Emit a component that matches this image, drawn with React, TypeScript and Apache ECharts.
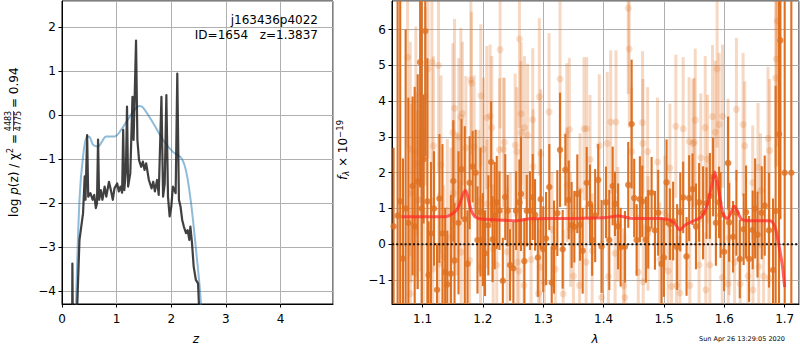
import React, { useEffect, useRef } from 'react';
import * as echarts from 'echarts';

// ---------- Left panel: log p(z) ----------
const zBlue = [0.25, 0.32, 0.385, 0.46, 0.51, 0.57, 0.66, 0.72, 0.81, 0.96, 1.12, 1.30, 1.42, 1.48, 1.67, 1.85, 2.03, 2.19, 2.28, 2.37, 2.46, 2.52, 2.56];
const pBlue = [-4.6, -1.92, -0.94, -0.48, -0.5, -0.67, -0.71, -0.62, -0.48, -0.48, -0.26, 0.08, 0.21, 0.18, -0.18, -0.56, -0.83, -0.98, -1.32, -2.08, -3.14, -3.9, -4.6];

const zDark = [0.185, 0.19, 0.2, 0.26, 0.32, 0.385, 0.415, 0.43, 0.46, 0.48, 0.52, 0.56, 0.59, 0.62, 0.64, 0.66, 0.68, 0.71, 0.74, 0.78, 0.81, 0.86, 0.90, 0.93, 0.96, 1.01, 1.04, 1.07, 1.10, 1.12, 1.14, 1.17, 1.19, 1.21, 1.25, 1.29, 1.31, 1.33, 1.355, 1.38, 1.41, 1.45, 1.48, 1.51, 1.54, 1.59, 1.64, 1.67, 1.70, 1.74, 1.77, 1.82, 1.85, 1.88, 1.91, 1.94, 1.97, 2.0, 2.03, 2.08, 2.11, 2.14, 2.17, 2.2, 2.23, 2.27, 2.30, 2.33, 2.35, 2.38, 2.41, 2.45, 2.49, 2.53];
const pDark = [-5, -3.37, -5, -5, -2.83, -2.23, -1.39, -1.92, -0.45, -1.85, -1.77, -1.92, -1.81, -2.11, -2.0, -0.55, -1.92, -1.70, -1.92, -1.62, -1.85, -1.51, -1.73, -1.92, -1.66, -1.55, -1.73, -1.62, -1.76, -0.33, -1.70, -1.24, 0.2, -1.62, -1.32, 0.42, -0.56, 0.42, 1.70, -0.56, -1.02, -1.17, -1.05, -1.24, -1.09, -1.47, -1.66, -1.51, -1.73, -1.47, -1.81, 0.42, -1.85, -1.55, 0.46, -1.85, -2.30, -2.08, -1.62, -1.77, 0.95, -1.92, -2.08, -2.38, -2.53, -2.68, -2.61, -2.83, -2.53, -2.91, -3.44, -3.74, -3.82, -5];

// ---------- Right panel: spectrum ----------
const darkLam = [1.052, 1.0587, 1.063, 1.0675, 1.072, 1.0765, 1.0835, 1.087, 1.092, 1.096, 1.0985, 1.1017, 1.1045, 1.108,
  1.11, 1.114, 1.119, 1.124, 1.128, 1.133, 1.1375, 1.141, 1.147, 1.151, 1.153, 1.1596, 1.1645, 1.170, 1.1745, 1.178, 1.183, 1.188, 1.191, 1.196, 1.200, 1.2035, 1.209, 1.2137, 1.216, 1.2195,
  1.223, 1.2274, 1.233, 1.237, 1.241, 1.245, 1.2505, 1.255, 1.2605, 1.263, 1.2687, 1.2727, 1.278, 1.2826, 1.2864, 1.291, 1.2958, 1.300, 1.3046, 1.310, 1.314, 1.3178, 1.3233, 1.3278, 1.3322, 1.3366, 1.3422, 1.347, 1.3515, 1.3564, 1.361, 1.3653, 1.372, 1.3774, 1.381,
  1.386, 1.3911, 1.3967, 1.4039, 1.4094, 1.415, 1.4188, 1.424, 1.4282, 1.4353, 1.4408, 1.4464, 1.4507, 1.4547, 1.4601, 1.464, 1.470, 1.4739, 1.4795, 1.485, 1.4904, 1.496, 1.4998, 1.5043, 1.5098, 1.5152, 1.5218, 1.527, 1.5318, 1.5374, 1.5417, 1.5473,
  1.553, 1.5582, 1.5648, 1.5705, 1.576, 1.5814, 1.586, 1.5913, 1.5937, 1.5996, 1.6062, 1.608, 1.6145, 1.620, 1.6256, 1.632, 1.636, 1.641, 1.647, 1.651, 1.655, 1.662, 1.6669, 1.674, 1.6807, 1.685, 1.6906, 1.6929, 1.700, 1.711];
const darkFlux = [0.5, 0.8, 1.2, -0.4, 1.0, 0.6, 1.63, 0.5, 1.75, 5.09, 1.0, 2.38, 5.96, 1.2,
  -0.86, 0.3, 1.0, -1.27, 1.28, 0.3, -0.78, -1.12, -0.82, 1.77, -0.45, 0.6, 2.1, 0.7, -0.55, 1.72, 2.17, 2.0, 0.12, 0.9, 0.13, -0.25, 0.53, 2.3, 0.14, 0.8,
  1.17, 0.94, -1.02, 1.32, 0.94, -0.58, -0.67, 0.94, 1.17, 1.41, -0.47, 0.94, 0.94, 1.32, 0.82, -0.37, 1.26, -0.14, 0.16, 1.60, -1.07, -0.08, 0.87, 2.64, -0.14, 2.08, 1.24, 0.54, 0.49, 1.41, 0.54, -0.18, 1.72, 1.13, 0.12,
  0.8, 1.80, -0.06, 1.17, 0.12, 1.63, 1.13, 0.5, -0.08, -0.07, 1.66, 3.36, 1.29, 0.12, 1.26, 1.2, 0.13, 0.42, 1.44, 0.39, 0.88, -0.55, -0.37, 1.73, 0.56, 0.65, -0.08, 0.9, 1.31, -0.34, 1.29, 1.54,
  0.5, 1.17, 0.88, 1.15, 1.35, 1.88, 0.6, 1.17, 0.82, -0.21, 2.27, 0.61, 0.21, 0.88, -0.41, 0.42, 0.9, -0.41, 0.4, 1.0, 0.27, 0.88, 1.08, 0.39, -0.72, 0.93, 3.08, 5.7, 2.0, 2.0];
const darkErr = [2.2, 7, 6, 2.8, 5, 3.5, 2.5, 3.9, 3.0, 3.5, 6, 1.8, 3.5, 4,
  1.5, 2.0, 1.6, 1.3, 1.8, 2.5, 1.8, 1.5, 2.2, 1.7, 1.6, 2.0, 1.4, 2.6, 1.5, 1.3, 1.0, 1.2, 1.5, 1.8, 1.3, 1.2, 1.4, 1.7, 1.2, 1.5,
  1.3, 1.1, 1.2, 1.2, 1.0, 1.0, 1.3, 1.1, 1.2, 1.6, 1.2, 1.0, 1.1, 1.2, 1.0, 1.1, 1.4, 1.2, 1.3, 1.2, 1.0, 1.3, 1.2, 1.6, 1.1, 1.0, 1.1, 1.2, 1.0, 1.1, 1.0, 1.2, 1.0, 1.1, 1.0,
  1.3, 1.0, 1.3, 1.0, 1.4, 1.1, 0.9, 1.2, 1.1, 1.0, 1.2, 1.8, 1.1, 1.0, 1.2, 1.0, 1.2, 1.1, 1.0, 1.1, 1.2, 1.3, 1.1, 1.2, 1.0, 1.1, 1.2, 1.1, 1.0, 1.1, 1.2, 1.0,
  1.2, 1.1, 1.3, 1.0, 1.2, 1.1, 1.2, 1.0, 1.2, 1.1, 1.3, 1.1, 1.0, 1.2, 1.1, 1.0, 1.3, 1.2, 1.1, 1.4, 1.2, 1.3, 1.4, 1.6, 2.0, 3.5, 6, 5, 9, 9];

const lightLam = [1.0752, 1.0796, 1.080, 1.081, 1.089, 1.0905, 1.0917, 1.097, 1.1017, 1.1045, 1.109, 1.1155, 1.117, 1.118, 1.1265, 1.127, 1.1305, 1.135, 1.141, 1.147, 1.1502, 1.151, 1.153, 1.157, 1.160, 1.1635, 1.164, 1.166, 1.1717, 1.178, 1.180, 1.181, 1.1855, 1.193, 1.196, 1.1966, 1.201, 1.2065, 1.2068, 1.212, 1.2148, 1.217,
  1.223, 1.2275, 1.2285, 1.234, 1.2357, 1.2403, 1.2453, 1.2535, 1.2562, 1.2569, 1.2597, 1.2605, 1.263, 1.2633, 1.268, 1.2688, 1.274, 1.2798, 1.2826, 1.283, 1.2922, 1.2935, 1.295, 1.2958, 1.302, 1.3096, 1.3146, 1.32, 1.3278, 1.333, 1.339, 1.3395, 1.3432, 1.3453, 1.35, 1.36, 1.361, 1.3675, 1.371, 1.3719, 1.3775, 1.381,
  1.3928, 1.3967, 1.406, 1.408, 1.4117, 1.419, 1.4205, 1.4237, 1.433, 1.4353, 1.4408, 1.4424, 1.4464, 1.4574, 1.4646, 1.465, 1.4656, 1.4729, 1.4735, 1.4894, 1.4932, 1.5015, 1.507, 1.5098, 1.5125, 1.5197, 1.5208, 1.5263, 1.5318, 1.5417, 1.5428, 1.548,
  1.55, 1.5518, 1.5582, 1.561, 1.5683, 1.5693, 1.572, 1.576, 1.5804, 1.585, 1.588, 1.5914, 1.5965, 1.597, 1.6062, 1.6065, 1.608, 1.617, 1.620, 1.6263, 1.6311, 1.6338, 1.6392, 1.647, 1.6475, 1.6558, 1.657, 1.66, 1.665, 1.6724, 1.674, 1.675, 1.6851, 1.6862, 1.6875];
const lightFlux = [5.23, 2.66, -1.38, 1.43, 2.59, 2.25, 1.24, 1.24, 0.87, 4.14, 4.9, 5.09, -0.69, 2.75, 5.0, -0.55, 2.22, -0.35, 0.94, 0.2, 3.12, 1.43, 3.8, 1.13, 3.0, 3.55, -0.22, 3.66, 2.7, -0.45, 4.6, 4.5, 2.72, 1.2, -0.64, 4.15, 2.66, 3.54, 1.13, 3.58, 3.26, -0.13,
  -0.58, 2.64, 5.44, 2.66, 2.85, -0.21, 0.5, 2.77, 2.59, -0.5, -0.75, 5.74, 3.12, 3.65, -1.15, 3.26, 3.05, -0.43, 3.48, 2.17, -1.38, 4.12, -0.64, 2.53, -1.08, 3.7, 0.41, -0.7, 4.62, -1.39, 3.06, 1.66, 3.21, 0.41, -0.89, -1.15, 1.5, 3.23, -0.5, 3.23, 2.37, -0.18,
  2.75, -1.49, 2.82, -0.9, 3.42, -0.25, 3.42, 0.56, -1.15, -1.49, 6.6, 5.46, 2.59, -0.78, 3.4, 2.82, -1.05, 2.59, 0.3, 2.3, -0.43, 0.88, -0.75, 2.13, -1.18, 3.3, -1.15, -1.36, 3.23, 2.87, -1.15, 2.82,
  2.85, 3.47, -0.58, 2.42, 3.26, -1.27, 2.38, -0.58, 3.57, 3.13, 4.9, 3.35, -0.93, 3.58, 2.27, -1.11, 0.18, -0.5, 3.77, -1.11, 3.35, 2.75, -0.89, 1.72, -1.28, 2.15, -0.63, 1.5, -0.89, 2.96, -0.95, 2.62, 4.65, 5.18, 6.24];
const lightErr = [2.5, 3.0, 2.0, 2.5, 3.5, 2.0, 2.5, 2.0, 2.5, 2.5, 2.5, 3.0, 2.0, 2.5, 3.0, 2.0, 2.5, 2.0, 2.0, 2.5, 2.5, 2.0, 2.5, 2.0, 2.2, 2.5, 2.0, 2.0, 2.0, 2.0, 2.5, 2.0, 2.0, 2.0, 2.0, 2.0, 2.0, 2.0, 1.8, 2.0, 2.0, 1.8,
  1.8, 2.0, 2.2, 2.0, 1.8, 1.8, 1.5, 2.0, 1.8, 1.8, 1.6, 2.5, 2.0, 2.0, 1.8, 2.0, 2.0, 1.8, 2.0, 1.6, 1.8, 2.2, 1.6, 1.8, 1.8, 2.2, 1.6, 1.6, 2.2, 1.8, 2.0, 1.6, 2.0, 1.6, 1.8, 1.6, 1.6, 2.0, 1.6, 2.0, 1.8, 1.6,
  2.0, 1.6, 2.0, 1.6, 2.0, 1.6, 2.0, 1.6, 1.6, 1.8, 2.4, 2.2, 1.8, 1.6, 2.0, 1.8, 1.6, 1.8, 1.6, 1.8, 1.6, 1.6, 1.6, 1.8, 1.6, 2.0, 1.6, 1.6, 2.0, 1.8, 1.6, 1.8,
  1.8, 2.0, 1.6, 1.8, 2.0, 1.6, 1.8, 1.6, 2.0, 2.0, 2.2, 2.0, 1.6, 2.0, 1.8, 1.6, 1.6, 1.6, 2.0, 1.6, 2.0, 1.8, 1.6, 1.6, 1.6, 1.8, 1.6, 1.6, 1.6, 2.0, 1.8, 2.0, 2.5, 3.0, 3.5];

const modelLam = [1.0648, 1.1376, 1.157, 1.1706, 1.1817, 1.1927, 1.207, 1.256, 1.278, 1.3333, 1.3995, 1.4242, 1.449, 1.4932, 1.5152, 1.5263, 1.5346, 1.5511, 1.5622, 1.5705, 1.5787, 1.5842, 1.5897, 1.5979, 1.6045, 1.6118, 1.6161, 1.621, 1.6284, 1.642, 1.6752, 1.6835, 1.6906, 1.6962, 1.70];
const modelFlux = [0.77, 0.77, 0.97, 1.5, 0.9, 0.72, 0.7, 0.66, 0.71, 0.72, 0.74, 0.79, 0.72, 0.72, 0.63, 0.4, 0.53, 0.67, 0.77, 1.05, 1.6, 2.02, 1.6, 0.85, 0.72, 0.9, 1.06, 0.95, 0.7, 0.66, 0.66, 0.5, -0.05, -0.6, -1.2];

const LZ = [0, 4.96];
const LP = [-4.29, 2.6];
const RL = [1.0494, 1.7237];
const RF = [-1.67, 6.8];

const FONT = 'DejaVu Sans';
const ORANGE = '#de7020';
const ORANGE_LIGHT = 'rgba(222,112,32,0.27)';

const fmtMinus = (v: number, d: number) => {
  const s = d > 0 ? v.toFixed(d) : String(Math.round(v));
  return s.replace('-', '\u2212');
};

function errRender(color: string, width: number) {
  return (params: any, api: any) => {
    const x = api.value(0);
    const y = api.value(1);
    const e = api.value(2);
    const lo = Math.max(y - e, RF[0]);
    const hi = Math.min(y + e, RF[1]);
    const p1 = api.coord([x, lo]);
    const p2 = api.coord([x, hi]);
    return {
      type: 'line',
      shape: { x1: p1[0], y1: p1[1], x2: p2[0], y2: p2[1] },
      style: { stroke: color, lineWidth: width },
    };
  };
}

function axisCommon(fontSize: number) {
  return {
    axisLine: { show: true, onZero: false, lineStyle: { color: '#000', width: 1 } },
    axisTick: { show: true, inside: false, length: 3.5, lineStyle: { color: '#000', width: 1 } },
    splitLine: { show: true, lineStyle: { color: '#b0b0b0', width: 1 } },
    axisLabel: { fontSize, color: '#000', fontFamily: FONT, showMinLabel: false, showMaxLabel: false },
  };
}

export default function App() {
  const ref = useRef<HTMLDivElement>(null);
  useEffect(() => {
    document.body.style.margin = '0';
    if (!ref.current) return;
    const chart = echarts.init(ref.current, undefined, { renderer: 'svg' });

    const blueData = zBlue.map((z, i) => [z, pBlue[i]]);
    const darkLine = zDark.map((z, i) => [z, pDark[i]]);
    const darkData = darkLam.map((l, i) => [l, darkFlux[i], darkErr[i]]);
    const lightData = lightLam.map((l, i) => [l, lightFlux[i], lightErr[i]]);
    const modelData = modelLam.map((l, i) => [l, modelFlux[i]]);

    const c0 = axisCommon(12);
    const option: any = {
      animation: false,
      textStyle: { fontFamily: FONT },
      grid: [
        { left: 62, top: 1, width: 271, height: 303, show: true, borderColor: '#000', borderWidth: 1, backgroundColor: 'transparent' },
        { left: 392, top: 1, width: 407, height: 303, show: true, borderColor: '#000', borderWidth: 1, backgroundColor: 'transparent' },
      ],
      xAxis: [
        { ...c0, gridIndex: 0, type: 'value', min: LZ[0], max: LZ[1], splitNumber: 5,
          axisLabel: { ...c0.axisLabel, showMinLabel: true, margin: 9, formatter: (v: number) => fmtMinus(v, 0) } },
        { ...c0, gridIndex: 1, type: 'value', min: RL[0], max: RL[1], splitNumber: 7,
          axisLabel: { ...c0.axisLabel, margin: 9, formatter: (v: number) => v.toFixed(1) } },
      ],
      yAxis: [
        { ...c0, gridIndex: 0, type: 'value', min: LP[0], max: LP[1], splitNumber: 7,
          axisLabel: { ...c0.axisLabel, margin: 6, formatter: (v: number) => fmtMinus(v, 0) } },
        { ...c0, gridIndex: 1, type: 'value', min: RF[0], max: RF[1], splitNumber: 8,
          axisLabel: { ...c0.axisLabel, margin: 6, formatter: (v: number) => fmtMinus(v, 0) } },
      ],
      series: [
        { type: 'line', xAxisIndex: 0, yAxisIndex: 0, data: blueData, smooth: 0.35, showSymbol: false, symbol: 'none',
          lineStyle: { color: 'rgba(31,119,180,0.5)', width: 2 }, clip: true, z: 3 },
        { type: 'line', xAxisIndex: 0, yAxisIndex: 0, data: darkLine, showSymbol: false, symbol: 'none',
          lineStyle: { color: 'rgba(30,30,30,0.85)', width: 2.2, join: 'round' }, clip: true, z: 4 },
        { type: 'custom', xAxisIndex: 1, yAxisIndex: 1, data: lightData, renderItem: errRender(ORANGE_LIGHT, 3),
          encode: { x: 0, y: 1 }, clip: true, z: 2 },
        { type: 'scatter', xAxisIndex: 1, yAxisIndex: 1, data: lightData.map((d) => [d[0], d[1]]), symbolSize: 7,
          itemStyle: { color: ORANGE_LIGHT }, clip: true, z: 2 },
        { type: 'custom', xAxisIndex: 1, yAxisIndex: 1, data: darkData, renderItem: errRender(ORANGE, 2.1),
          encode: { x: 0, y: 1 }, clip: true, z: 3 },
        { type: 'scatter', xAxisIndex: 1, yAxisIndex: 1, data: darkData.map((d) => [d[0], d[1]]), symbolSize: 6.5,
          itemStyle: { color: ORANGE }, clip: true, z: 3 },
        { type: 'line', xAxisIndex: 1, yAxisIndex: 1, data: [[RL[0], 0], [RL[1], 0]], showSymbol: false, symbol: 'none',
          lineStyle: { color: '#111', width: 2, type: [2, 2.2] }, z: 5 },
        { type: 'line', xAxisIndex: 1, yAxisIndex: 1, data: modelData, smooth: 0.3, showSymbol: false, symbol: 'none',
          lineStyle: { color: 'rgba(255,40,40,0.72)', width: 3 }, clip: true, z: 6 },
      ],
      graphic: [
        { type: 'text', x: 318, y: 20, style: { text: 'j163436p4022', font: `12px "${FONT}"`, fill: '#000', align: 'right', verticalAlign: 'middle' }, z: 10 },
        { type: 'text', x: 318, y: 35, style: { text: 'ID=1654   z=1.3837', font: `12px "${FONT}"`, fill: '#000', align: 'right', verticalAlign: 'middle' }, z: 10 },
        { type: 'text', x: 196, y: 339, style: { text: 'z', font: `italic 12px "${FONT}"`, fill: '#000', align: 'center', verticalAlign: 'middle' } },
        { type: 'text', x: 595, y: 339, style: { text: 'λ', font: `italic 12px "${FONT}"`, fill: '#000', align: 'center', verticalAlign: 'middle' } },
        { type: 'text', x: 742, y: 339, style: { text: 'Sun Apr 26 13:29:05 2020', font: `6.5px "${FONT}"`, fill: '#000', align: 'center', verticalAlign: 'middle' } },
        {
          type: 'group', x: 13.5, y: 150, rotation: Math.PI / 2,
          children: [
            { type: 'text', x: 106 - 90, y: 0, style: {
              text: '{n|log }{i|p}{n|(z) / χ}{s|2}{n| =}', align: 'right', verticalAlign: 'middle', fill: '#000',
              rich: {
                n: { fontSize: 12, fontFamily: FONT, fill: '#000' },
                i: { fontSize: 12, fontFamily: FONT, fontStyle: 'italic', fill: '#000' },
                s: { fontSize: 8, fontFamily: FONT, fill: '#000', verticalAlign: 'top', padding: [0, 0, 6, 0] },
              } } },
            { type: 'text', x: 119 - 90, y: -4.8, style: { text: '4483', font: `8px "${FONT}"`, fill: '#000', align: 'center', verticalAlign: 'middle' } },
            { type: 'line', shape: { x1: 109 - 90, y1: 0, x2: 129 - 90, y2: 0 }, style: { stroke: '#000', lineWidth: 0.7 } },
            { type: 'text', x: 119 - 90, y: 4.8, style: { text: '4775', font: `8px "${FONT}"`, fill: '#000', align: 'center', verticalAlign: 'middle' } },
            { type: 'text', x: 132 - 90, y: 0, style: { text: '= 0.94', font: `12px "${FONT}"`, fill: '#000', align: 'left', verticalAlign: 'middle' } },
          ],
        },
        {
          type: 'text', x: 343, y: 150, rotation: Math.PI / 2,
          style: {
            text: '{i|f}{sub|λ}{n| × 10}{sup|−19}', align: 'center', verticalAlign: 'middle', fill: '#000',
            rich: {
              n: { fontSize: 12, fontFamily: FONT, fill: '#000' },
              i: { fontSize: 12, fontFamily: FONT, fontStyle: 'italic', fill: '#000' },
              sub: { fontSize: 8.5, fontFamily: FONT, fontStyle: 'italic', fill: '#000', padding: [6, 0, 0, 0] },
              sup: { fontSize: 8.5, fontFamily: FONT, fill: '#000', padding: [0, 0, 7, 0] },
            },
          },
        },
      ],
    };
    chart.setOption(option);
    return () => chart.dispose();
  }, []);
  return <div ref={ref} style={{ width: 800, height: 350 }} />;
}
